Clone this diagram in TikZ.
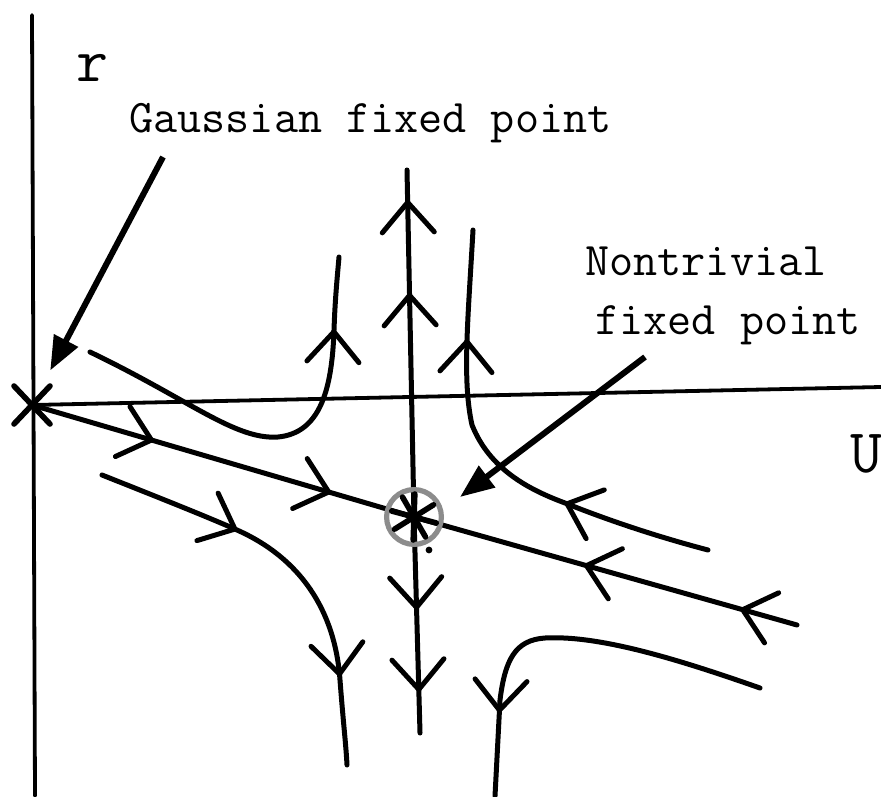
\documentclass[tikz,border=0pt]{standalone}
\usetikzlibrary{arrows.meta,decorations.markings}
\tikzset{
  chev/.tip={Straight Barb[length=15pt,width=26pt,round]},
  axis/.style={line width=1.9pt, line cap=round},
  flow/.style={line width=2.5pt, line cap=round, line join=round},
  marks1/.style={postaction={decorate}, decoration={markings,
     mark=at position #1 with {\arrow{chev}}}},
  marks2/.style 2 args={postaction={decorate}, decoration={markings,
     mark=at position #1 with {\arrow{chev}},
     mark=at position #2 with {\arrow{chev}}}},
  starline/.style={line width=2.8pt, line cap=round},
  pointer/.style={line width=3pt, -{Triangle[length=17pt,width=13pt]}},
  lbl/.style={font=\ttfamily\fontsize{23.4}{28}\selectfont, inner sep=0pt},
  biglbl/.style={font=\ttfamily\fontsize{31}{36}\selectfont, inner sep=0pt},
}
\begin{document}
\begin{tikzpicture}[x=0.5pt,y=-0.5pt]
\useasboundingbox (0,0) rectangle (881,796);
\clip (0,0) rectangle (881,796);
\fill[white] (0,0) rectangle (881,796);

% fixed points and helper coordinates
\coordinate (gfp) at (32,405);
\coordinate (nfp) at (414,517);
\coordinate (rtop) at (32,15);
\coordinate (rbot) at (35,796);
\coordinate (uend) at (881,387);
\coordinate (vtop) at (407,170);
\coordinate (vbot) at (420,733);
\coordinate (sepR) at (797,625);
\coordinate (gptr) at (163,157);
\coordinate (nptr) at (645,357);
\coordinate (ntip) at (460,497);

% axes
\draw[axis] (rtop) -- (rbot);
\draw[axis] (gfp) -- (uend);

% vertical separatrix through the nontrivial fixed point
\draw[flow, marks2={0.646}{0.914}] (nfp) -- (vtop);
\draw[flow, marks2={0.43}{0.81}] (nfp) -- (vbot);

% separatrix Gaussian -> nontrivial <- right
\draw[flow, marks2={0.319}{0.783}] (gfp) -- (nfp);
\draw[flow, marks2={0.148}{0.556}] (sepR) -- (nfp);

% upper-left trajectory
\draw[flow, marks1={0.825}] (90,352) .. controls (190,400) and (235,440) .. (278,437)
   .. controls (320,433) and (332,390) .. (334,330)
   .. controls (335,300) and (337,280) .. (339,257);

% upper-right trajectory
\draw[flow, marks2={0.32}{0.768}] (708,550) .. controls (670,540) and (620,525) .. (565,503)
   .. controls (530,490) and (490,470) .. (472,425)
   .. controls (462,380) and (468,320) .. (473,230);

% lower-left trajectory
\draw[flow, marks2={0.345}{0.79}] (102,475) .. controls (170,502) and (210,518) .. (237,530)
   .. controls (300,558) and (335,610) .. (340,680)
   .. controls (343,720) and (346,745) .. (347,765);

% lower-right trajectory
\draw[flow, marks1={0.793}] (760,688) .. controls (680,660) and (600,635) .. (545,638)
   .. controls (515,640) and (505,660) .. (500,700) -- (495,796);

% Gaussian fixed point star
\draw[starline] (gfp) +(-18,-19) -- +(18,19);
\draw[starline] (gfp) +(-18,19) -- +(18,-19);

% nontrivial fixed point: gray circle and star
\draw[black!45, line width=2.6pt] (nfp) circle[radius=13.7pt];
\foreach \a in {-32,15,60,92} \draw[starline] (nfp) +(\a:23) -- +(\a+180:23);
\fill (429,550) circle[radius=1.7pt];

% pointers
\draw[pointer, shorten >=19.5pt] (gptr) -- (gfp);
\draw[pointer] (nptr) -- (ntip);

% labels
\node[biglbl, anchor=base west] (rlabel) at (76,82) {r};
\node[biglbl, anchor=base west] (ulabel) at (850,472) {U};
\node[lbl, anchor=base west] (glabel) at (129,133) {Gaussian fixed point};
\node[lbl, anchor=base west] (nlabel1) at (585,275) {Nontrivial};
\node[lbl, anchor=base west] (nlabel2) at (595,334) {fixed point};
\end{tikzpicture}
\end{document}
